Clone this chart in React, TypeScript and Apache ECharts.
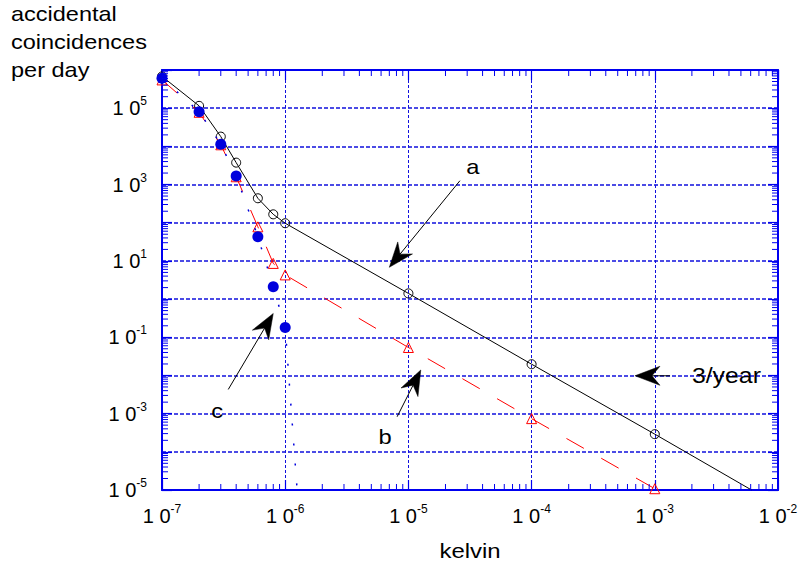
import React, { useEffect, useRef } from 'react';
import * as echarts from 'echarts';

// ---- data ----
const kelvin = [1e-7, 2e-7, 3e-7, 4e-7, 6e-7, 8e-7, 1e-6, 1e-5, 1e-4, 1e-3];
const curveA = [6.8e5, 1.15e5, 1.8e4, 3.75e3, 437, 166, 97, 1.41, 0.0197, 2.9e-4];
const curveAEnd = [6.1e-3, 1e-5];
const curveB = [5.5e5, 7.8e4, 1.1e4, 1.6e3, 78, 8.6, 4.3, 0.054, 7.4e-4, 1.08e-5];
const kelvinC = [1e-7, 2e-7, 3e-7, 4e-7, 6e-7, 8e-7, 1e-6];
const curveC = [6.1e5, 8.1e4, 1.14e4, 1.68e3, 43, 2.1, 0.18];
const curveCEnd = [1.25e-6, 1e-5];

// axis ranges and tick labels (exponents of ten)
const X_MIN = 1e-7;
const X_MAX = 1e-2;
const Y_MIN = 1e-5;
const Y_MAX = 1e6;
const xLabelExponents = [-7, -6, -5, -4, -3, -2];
const yLabelExponents = [-5, -3, -1, 1, 3, 5];
// minor tick positions (2..9 times each decade)
const xMinorTicks = [
  2e-7, 3e-7, 4e-7, 5e-7, 6e-7, 7e-7, 8e-7, 9e-7,
  2e-6, 3e-6, 4e-6, 5e-6, 6e-6, 7e-6, 8e-6, 9e-6,
  2e-5, 3e-5, 4e-5, 5e-5, 6e-5, 7e-5, 8e-5, 9e-5,
  2e-4, 3e-4, 4e-4, 5e-4, 6e-4, 7e-4, 8e-4, 9e-4,
  2e-3, 3e-3, 4e-3, 5e-3, 6e-3, 7e-3, 8e-3, 9e-3,
];
const yMinorMantissas = [2, 3, 4, 5, 6, 7, 8, 9];
const yMinorDecades = [-5, -4, -3, -2, -1, 0, 1, 2, 3, 4, 5];

// annotations (data coordinates)
const annLabels = ['a', 'b', 'c', '3/year'];
const annTextAt = [[3.34e-5, 2880], [6.46e-6, 2.44e-4], [2.8e-7, 1.17e-3], [2.0e-3, 0.0098]];
const annArrowFrom = [[2.62e-5, 1260], [8.1e-6, 8.3e-4], [3.45e-7, 4.3e-3], [1.33e-3, 0.0098]];
const annArrowTo = [[7.0e-6, 6.8], [1.26e-5, 0.0139], [8.0e-7, 0.42], [6.9e-4, 0.0098]];

const FONT = '"Liberation Sans", Arial, Helvetica, sans-serif';
const AXIS_BLUE = '#0000f0';
const GRID_BLUE = '#1010dd';

const rich = {
  b: { fontSize: 20, lineHeight: 26, fontFamily: FONT, color: '#000' },
  s: { fontSize: 12, lineHeight: 12, verticalAlign: 'top', fontFamily: FONT, color: '#000' },
};

function expOf(v: number) {
  return Math.round(Math.log10(v));
}

export default function App() {
  const ref = useRef<HTMLDivElement>(null);
  useEffect(() => {
    if (!ref.current) return;
    const chart = echarts.init(ref.current, null, { renderer: 'svg' });

    const yMinorTicks: number[] = [];
    yMinorDecades.forEach((e) => yMinorMantissas.forEach((m) => yMinorTicks.push(Number((m + 'e' + e)))));

    const commonX = {
      type: 'log',
      logBase: 10,
      min: X_MIN,
      max: X_MAX,
      interval: 1,
      axisLine: { show: true, onZero: false, lineStyle: { color: AXIS_BLUE, width: 2 } },
      axisTick: { show: true, inside: true, length: 10, lineStyle: { color: AXIS_BLUE, width: 1.2 } },
      minorTick: { show: false },
    };
    const commonY = {
      type: 'log',
      logBase: 10,
      min: Y_MIN,
      max: Y_MAX,
      interval: 1,
      axisLine: { show: true, onZero: false, lineStyle: { color: AXIS_BLUE, width: 2 } },
      axisTick: { show: true, inside: true, length: 10, lineStyle: { color: AXIS_BLUE, width: 1.2 } },
      minorTick: { show: false },
    };

    // minor ticks as line series of short segments, drawn through the axes' own scales
    const TL_X = 1.1; // ratio in y (log) space for vertical minor ticks ~ tick length
    const option: any = {
      animation: false,
      backgroundColor: '#fff',
      grid: { left: 162, right: 22, top: 70, bottom: 80, containLabel: false, outerBoundsMode: 'none' },
      xAxis: [
        {
          ...commonX,
          position: 'bottom',
          splitLine: { show: true, lineStyle: { color: GRID_BLUE, width: 1, type: [3, 2] } },
          axisLabel: {
            show: true,
            margin: 13,
            rich,
            formatter: (v: number) => {
              const e = expOf(v);
              return xLabelExponents.includes(e) ? `{b|1 0}{s|${e}}` : '';
            },
          },
        },
        {
          ...commonX,
          position: 'top',
          splitLine: { show: false },
          axisLabel: { show: false },
        },
      ],
      yAxis: [
        {
          ...commonY,
          position: 'left',
          splitLine: { show: true, lineStyle: { color: GRID_BLUE, width: 1.6, type: [4, 2] } },
          axisLabel: {
            show: true,
            margin: 15,
            rich,
            formatter: (v: number) => {
              const e = expOf(v);
              return yLabelExponents.includes(e) ? `{b|1 0}{s|${e}}` : '';
            },
          },
        },
        {
          ...commonY,
          position: 'right',
          splitLine: { show: false },
          axisLabel: { show: false },
        },
      ],
      graphic: [
        { type: 'text', x: 11, y: 13.5, scaleX: 1.12, style: { text: 'accidental', font: `21px ${FONT}`, fill: '#000', align: 'left', verticalAlign: 'middle' } },
        { type: 'text', x: 11, y: 42, scaleX: 1.12, style: { text: 'coincidences', font: `21px ${FONT}`, fill: '#000', align: 'left', verticalAlign: 'middle' } },
        { type: 'text', x: 11, y: 69.5, scaleX: 1.12, style: { text: 'per day', font: `21px ${FONT}`, fill: '#000', align: 'left', verticalAlign: 'middle' } },
        { type: 'text', x: 470, y: 551, scaleX: 1.14, style: { text: 'kelvin', font: `21px ${FONT}`, fill: '#000', align: 'center', verticalAlign: 'middle' } },
      ],
      series: [
        {
          name: 'minor ticks',
          type: 'custom',
          xAxisIndex: 0,
          yAxisIndex: 0,
          silent: true,
          z: 20,
          clip: false,
          data: [
            ...xMinorTicks.map((v) => [v, 1, 0]),
            ...yMinorTicks.map((v) => [1e-6, v, 1]),
          ],
          dimensions: ['x', 'y', 'k'],
          encode: { x: 'x', y: 'y' },
          renderItem: (params: any, api: any) => {
            const pt = api.coord([api.value('x'), api.value('y')]);
            const lo = api.coord([X_MIN, Y_MIN]);
            const hi = api.coord([X_MAX, Y_MAX]);
            const k = api.value('k');
            const T = 6;
            const st = { stroke: '#ff0000', lineWidth: 2 };
            if (k === 0 || k === '0') {
              return {
                type: 'group',
                children: [
                  { type: 'rect', shape: { x: pt[0] - 0.5, y: lo[1] - T, width: 1, height: T }, style: { fill: AXIS_BLUE } },
                  { type: 'rect', shape: { x: pt[0] - 0.5, y: hi[1], width: 1, height: T }, style: { fill: AXIS_BLUE } },
                ],
              };
            }
            return {
              type: 'group',
              children: [
                { type: 'rect', shape: { x: lo[0], y: pt[1] - 0.5, width: T, height: 1 }, style: { fill: AXIS_BLUE } },
                { type: 'rect', shape: { x: hi[0] - T, y: pt[1] - 0.5, width: T, height: 1 }, style: { fill: AXIS_BLUE } },
              ],
            };
          },
        },
        {
          name: 'a',
          type: 'line',
          xAxisIndex: 0,
          yAxisIndex: 0,
          silent: true,
          z: 3,
          symbol: 'circle',
          symbolSize: 9,
          itemStyle: { color: 'transparent', borderColor: '#000', borderWidth: 1 },
          lineStyle: { color: '#000', width: 1 },
          data: [
            ...kelvin.map((x, i) => [x, curveA[i]]),
            { value: curveAEnd, symbol: 'none' },
          ],
        },
        {
          name: 'b',
          type: 'line',
          xAxisIndex: 0,
          yAxisIndex: 0,
          silent: true,
          z: 4,
          symbol: 'triangle',
          symbolSize: 10,
          itemStyle: { color: 'transparent', borderColor: '#ff0000', borderWidth: 1 },
          lineStyle: { color: '#ff0000', width: 1, type: [20, 20] },
          data: kelvin.map((x, i) => [x, curveB[i]]),
        },
        {
          name: 'c',
          type: 'line',
          xAxisIndex: 0,
          yAxisIndex: 0,
          silent: true,
          z: 5,
          symbol: 'circle',
          symbolSize: 11,
          itemStyle: { color: '#0000dd' },
          lineStyle: { color: '#0000dd', width: 1.5, type: [2, 18] },
          data: [
            ...kelvinC.map((x, i) => [x, curveC[i]]),
            { value: curveCEnd, symbol: 'none' },
          ],
        },
        {
          name: 'annotations',
          type: 'custom',
          xAxisIndex: 0,
          yAxisIndex: 0,
          silent: true,
          z: 10,
          clip: false,
          data: annLabels.map((_, i) => [annArrowTo[i][0], annArrowTo[i][1]]),
          encode: { x: 0, y: 1 },
          renderItem: (params: any, api: any) => {
            const i = params.dataIndex;
            const p0 = api.coord(annArrowFrom[i]);
            const p1 = api.coord(annArrowTo[i]);
            const pt = api.coord(annTextAt[i]);
            const dx = p1[0] - p0[0];
            const dy = p1[1] - p0[1];
            const len = Math.sqrt(dx * dx + dy * dy) || 1;
            const ux = dx / len;
            const uy = dy / len;
            const nx = -uy;
            const ny = ux;
            const L = 25;
            const W = 9.5;
            const N = 17;
            const back = [p1[0] - ux * L, p1[1] - uy * L];
            const notch = [p1[0] - ux * N, p1[1] - uy * N];
            const c1 = [back[0] + nx * W, back[1] + ny * W];
            const c2 = [back[0] - nx * W, back[1] - ny * W];
            return {
              type: 'group',
              children: [
                {
                  type: 'line',
                  shape: { x1: p0[0], y1: p0[1], x2: notch[0], y2: notch[1] },
                  style: { stroke: '#000', lineWidth: 1 },
                },
                {
                  type: 'polygon',
                  shape: { points: [p1, c1, notch, c2] },
                  style: { fill: '#000', stroke: '#000', lineWidth: 0.5 },
                },
                {
                  type: 'text',
                  x: pt[0],
                  y: pt[1],
                  scaleX: 1.13,
                  style: {
                    text: annLabels[i],
                    font: `${i === 3 ? 22 : 21}px ${FONT}`,
                    fill: '#000',
                    align: i === 3 ? 'left' : 'center',
                    verticalAlign: 'middle',
                  },
                },
              ],
            };
          },
        },
      ],
    };

    chart.setOption(option);

    return () => {
      chart.dispose();
    };
  }, []);

  return (
    <div
      ref={ref}
      style={{ position: 'fixed', left: 0, top: 0, width: 800, height: 570, background: '#fff' }}
    />
  );
}
